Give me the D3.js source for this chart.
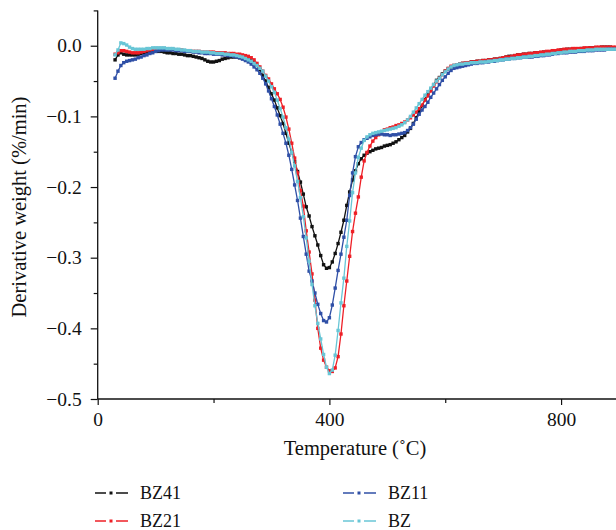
<!DOCTYPE html>
<html>
<head>
<meta charset="utf-8">
<script src="https://cdnjs.cloudflare.com/ajax/libs/d3/7.8.5/d3.min.js"></script>
<style>
    body { margin: 0; background: #fff; }
    svg { display: block; }
    text { font-family: "Liberation Serif", "Times New Roman", serif; fill: #111; }
</style>
</head>
<body>
<svg id="chart" width="616" height="530"></svg>
<script>
// sampling temperatures (°C)
const temps = [30,35,40,45,50,55,60,65,70,75,80,85,90,95,100,105,110,115,120,125,130,135,140,145,150,155,160,165,170,175,
    180,185,190,195,200,205,210,215,220,225,230,235,240,245,250,255,260,265,270,275,280,285,290,295,300,305,310,315,320,325,
    330,335,340,345,350,355,360,365,370,375,380,385,390,395,400,405,410,415,420,425,430,435,440,445,450,455,460,465,470,475,
    480,485,490,495,500,505,510,515,520,525,530,535,540,545,550,555,560,565,570,575,580,585,590,595,600,605,610,615,620,625,
    630,635,640,645,650,655,660,665,670,675,680,685,690,695,700,705,710,715,720,725,730,735,740,745,750,755,760,765,770,775,
    780,785,790,795,800,805,810,815,820,825,830,835,840,845,850,855,860,865,870,875,880,885,890,895];

const bz41 = [-0.020,-0.013,-0.010,-0.012,-0.013,-0.013,-0.013,-0.013,-0.012,-0.011,-0.010,-0.009,-0.008,-0.008,-0.008,
    -0.008,-0.008,-0.009,-0.010,-0.010,-0.011,-0.011,-0.012,-0.012,-0.013,-0.014,-0.014,-0.015,-0.016,-0.017,
    -0.018,-0.020,-0.022,-0.023,-0.023,-0.022,-0.021,-0.019,-0.018,-0.017,-0.016,-0.016,-0.016,-0.017,-0.017,
    -0.018,-0.019,-0.021,-0.024,-0.028,-0.034,-0.042,-0.050,-0.059,-0.068,-0.077,-0.088,-0.099,-0.110,-0.124,
    -0.138,-0.151,-0.164,-0.178,-0.193,-0.210,-0.228,-0.241,-0.256,-0.269,-0.282,-0.297,-0.310,-0.315,-0.314,
    -0.306,-0.294,-0.280,-0.264,-0.247,-0.226,-0.207,-0.190,-0.177,-0.167,-0.160,-0.155,-0.152,-0.150,-0.148,
    -0.146,-0.145,-0.144,-0.142,-0.141,-0.140,-0.138,-0.136,-0.133,-0.130,-0.127,-0.122,-0.117,-0.110,-0.102,
    -0.093,-0.085,-0.076,-0.068,-0.062,-0.055,-0.049,-0.045,-0.040,-0.036,-0.033,-0.030,-0.028,-0.027,-0.026,
    -0.025,-0.025,-0.024,-0.023,-0.023,-0.022,-0.022,-0.021,-0.021,-0.020,-0.020,-0.019,-0.019,-0.018,-0.017,
    -0.016,-0.015,-0.015,-0.014,-0.013,-0.013,-0.012,-0.012,-0.011,-0.011,-0.010,-0.010,-0.010,-0.009,-0.009,
    -0.009,-0.008,-0.008,-0.007,-0.006,-0.006,-0.005,-0.005,-0.005,-0.005,-0.005,-0.004,-0.004,-0.004,-0.003,
    -0.003,-0.003,-0.003,-0.002,-0.002,-0.002,-0.002,-0.003,-0.003];

const bz21 = [-0.012,-0.010,-0.007,-0.007,-0.008,-0.009,-0.010,-0.010,-0.010,-0.009,-0.008,-0.007,-0.006,-0.005,-0.004,
    -0.004,-0.004,-0.004,-0.005,-0.005,-0.005,-0.006,-0.006,-0.006,-0.007,-0.007,-0.007,-0.008,-0.008,-0.008,
    -0.009,-0.009,-0.009,-0.009,-0.009,-0.010,-0.010,-0.010,-0.010,-0.011,-0.011,-0.011,-0.012,-0.012,-0.013,
    -0.014,-0.015,-0.017,-0.020,-0.025,-0.030,-0.036,-0.042,-0.047,-0.054,-0.061,-0.068,-0.076,-0.087,-0.101,
    -0.118,-0.138,-0.159,-0.180,-0.205,-0.227,-0.262,-0.292,-0.323,-0.360,-0.400,-0.428,-0.445,-0.455,-0.460,
    -0.461,-0.456,-0.440,-0.408,-0.368,-0.333,-0.298,-0.263,-0.237,-0.214,-0.186,-0.163,-0.151,-0.142,-0.135,
    -0.130,-0.126,-0.122,-0.119,-0.118,-0.116,-0.115,-0.113,-0.112,-0.110,-0.108,-0.105,-0.102,-0.098,-0.094,
    -0.089,-0.084,-0.077,-0.071,-0.064,-0.057,-0.051,-0.046,-0.041,-0.036,-0.032,-0.029,-0.028,-0.027,-0.026,
    -0.025,-0.024,-0.024,-0.023,-0.023,-0.022,-0.022,-0.021,-0.021,-0.020,-0.020,-0.019,-0.019,-0.018,-0.017,
    -0.016,-0.016,-0.015,-0.014,-0.013,-0.013,-0.012,-0.012,-0.011,-0.011,-0.010,-0.010,-0.009,-0.009,-0.008,
    -0.008,-0.007,-0.007,-0.006,-0.006,-0.005,-0.005,-0.005,-0.004,-0.004,-0.004,-0.004,-0.003,-0.003,-0.003,
    -0.003,-0.002,-0.002,-0.002,-0.002,-0.002,-0.002,-0.002,-0.002];

const bz11 = [-0.046,-0.036,-0.028,-0.024,-0.022,-0.021,-0.020,-0.019,-0.017,-0.016,-0.014,-0.013,-0.011,-0.010,-0.008,
    -0.007,-0.006,-0.006,-0.006,-0.006,-0.006,-0.007,-0.007,-0.007,-0.008,-0.008,-0.008,-0.009,-0.009,-0.010,
    -0.010,-0.011,-0.011,-0.011,-0.012,-0.012,-0.012,-0.013,-0.013,-0.014,-0.014,-0.015,-0.016,-0.017,-0.019,
    -0.021,-0.023,-0.026,-0.030,-0.034,-0.039,-0.046,-0.054,-0.064,-0.075,-0.086,-0.098,-0.111,-0.124,-0.138,
    -0.155,-0.175,-0.197,-0.219,-0.244,-0.270,-0.295,-0.319,-0.333,-0.350,-0.366,-0.379,-0.389,-0.391,-0.385,
    -0.367,-0.343,-0.318,-0.295,-0.271,-0.247,-0.212,-0.180,-0.157,-0.143,-0.137,-0.133,-0.131,-0.129,-0.127,
    -0.126,-0.125,-0.125,-0.126,-0.126,-0.127,-0.126,-0.126,-0.125,-0.124,-0.123,-0.120,-0.116,-0.111,-0.104,
    -0.097,-0.091,-0.086,-0.080,-0.073,-0.067,-0.061,-0.055,-0.049,-0.044,-0.039,-0.035,-0.032,-0.031,-0.030,
    -0.029,-0.028,-0.027,-0.026,-0.025,-0.025,-0.024,-0.024,-0.023,-0.023,-0.022,-0.022,-0.021,-0.020,-0.020,
    -0.019,-0.019,-0.018,-0.018,-0.017,-0.017,-0.016,-0.016,-0.016,-0.016,-0.015,-0.015,-0.014,-0.014,-0.013,
    -0.013,-0.012,-0.011,-0.011,-0.010,-0.010,-0.010,-0.009,-0.009,-0.009,-0.008,-0.008,-0.008,-0.007,-0.007,
    -0.007,-0.006,-0.006,-0.006,-0.006,-0.005,-0.005,-0.005,-0.005];

const bz = [-0.013,-0.006,0.004,0.003,0.001,-0.002,-0.004,-0.005,-0.005,-0.005,-0.005,-0.004,-0.004,-0.003,-0.003,
    -0.003,-0.003,-0.003,-0.004,-0.004,-0.004,-0.005,-0.005,-0.006,-0.006,-0.007,-0.007,-0.008,-0.008,-0.008,
    -0.009,-0.009,-0.009,-0.010,-0.010,-0.011,-0.011,-0.011,-0.012,-0.012,-0.013,-0.013,-0.014,-0.015,-0.016,
    -0.018,-0.020,-0.022,-0.025,-0.028,-0.032,-0.036,-0.043,-0.050,-0.058,-0.066,-0.077,-0.089,-0.101,-0.116,
    -0.132,-0.151,-0.170,-0.192,-0.215,-0.242,-0.272,-0.305,-0.338,-0.368,-0.393,-0.415,-0.437,-0.455,-0.464,
    -0.459,-0.438,-0.403,-0.364,-0.329,-0.284,-0.248,-0.208,-0.180,-0.158,-0.145,-0.134,-0.129,-0.126,-0.124,
    -0.123,-0.122,-0.121,-0.120,-0.119,-0.118,-0.117,-0.116,-0.114,-0.112,-0.109,-0.105,-0.100,-0.094,-0.088,
    -0.082,-0.076,-0.070,-0.065,-0.060,-0.055,-0.050,-0.046,-0.041,-0.037,-0.033,-0.030,-0.028,-0.027,-0.026,
    -0.026,-0.025,-0.025,-0.024,-0.024,-0.024,-0.023,-0.023,-0.023,-0.022,-0.022,-0.021,-0.021,-0.020,-0.020,
    -0.019,-0.019,-0.018,-0.018,-0.017,-0.017,-0.016,-0.016,-0.015,-0.015,-0.014,-0.014,-0.013,-0.013,-0.012,
    -0.012,-0.011,-0.011,-0.010,-0.010,-0.009,-0.009,-0.008,-0.008,-0.008,-0.007,-0.007,-0.007,-0.006,-0.006,
    -0.006,-0.005,-0.005,-0.005,-0.005,-0.005,-0.005,-0.005,-0.005];

const seriesNames = ["BZ41", "BZ21", "BZ11", "BZ"];
const seriesValues = [bz41, bz21, bz11, bz];
const seriesColors = ["#111111", "#ee1f26", "#2f4fa6", "#68c6d6"];

const xMajorTicks = [0, 400, 800];
const xMinorTicks = [200, 600];
const yMajorTicks = [0, -0.1, -0.2, -0.3, -0.4, -0.5];
const yMinorTicks = [0.05, -0.05, -0.15, -0.25, -0.35, -0.45];

function drawChart() {
    const svg = d3.select("#chart");

    const x = d3.scaleLinear().domain([0, 900]).range([97.7, 619]);
    const y = d3.scaleLinear().domain([-0.5, 0.05]).range([399, 10.4]);

    // x axis
    const xAxis = svg.append("g").attr("transform", `translate(0,${y(-0.5)})`);
    xAxis.call(d3.axisBottom(x).tickValues(xMinorTicks).tickSize(4).tickFormat(""));
    xAxis.append("g").call(d3.axisBottom(x).tickValues(xMajorTicks).tickSize(6).tickPadding(7)
        .tickFormat(d3.format("d")));
    xAxis.selectAll(".domain").remove();
    xAxis.append("line")
        .attr("x1", x(0)).attr("x2", 616)
        .attr("stroke", "#111").attr("stroke-width", 1.3);

    // y axis
    const yAxis = svg.append("g").attr("transform", `translate(${x(0)},0)`);
    yAxis.call(d3.axisLeft(y).tickValues(yMinorTicks).tickSize(4).tickFormat(""));
    yAxis.append("g").call(d3.axisLeft(y).tickValues(yMajorTicks).tickSize(7).tickPadding(9)
        .tickFormat(d3.format(".1f")));
    yAxis.selectAll(".domain").remove();
    yAxis.append("line")
        .attr("y1", y(0.05)).attr("y2", y(-0.5))
        .attr("stroke", "#111").attr("stroke-width", 1.3);

    svg.selectAll(".tick line").attr("stroke", "#111").attr("stroke-width", 1.2);
    svg.selectAll(".tick text")
        .attr("font-family", "Liberation Serif, serif")
        .attr("font-size", 19.5)
        .attr("fill", "#111");

    // axis titles
    svg.append("text")
        .attr("x", 355).attr("y", 455)
        .attr("text-anchor", "middle")
        .attr("font-size", 20.5)
        .text("Temperature (\u02daC)");

    svg.append("text")
        .attr("transform", `translate(26,207) rotate(-90)`)
        .attr("text-anchor", "middle")
        .attr("font-size", 20.5)
        .text("Derivative weight (%/min)");

    // curves
    const line = d3.line()
        .x((d, i) => x(temps[i]))
        .y(d => y(d));

    seriesValues.forEach((vals, k) => {
        const g = svg.append("g").attr("class", "series");
        g.append("path")
            .datum(vals)
            .attr("d", line)
            .attr("fill", "none")
            .attr("stroke", seriesColors[k])
            .attr("stroke-width", 1.3);
        g.selectAll("rect")
            .data(vals)
            .enter().append("rect")
            .attr("x", (d, i) => x(temps[i]) - 1.7)
            .attr("y", d => y(d) - 1.7)
            .attr("width", 3.4)
            .attr("height", 3.4)
            .attr("fill", seriesColors[k]);
    });

    // legend
    const legendPos = [[95, 493], [95, 521], [343, 493], [343, 521]];
    const legend = svg.append("g").attr("class", "legend");
    seriesNames.forEach((name, k) => {
        const [lx, ly] = legendPos[k];
        const item = legend.append("g").attr("transform", `translate(${lx},${ly})`);
        item.append("line").attr("x1", 0).attr("x2", 11).attr("y1", 0).attr("y2", 0)
            .attr("stroke", seriesColors[k]).attr("stroke-width", 1.5);
        item.append("line").attr("x1", 21).attr("x2", 33).attr("y1", 0).attr("y2", 0)
            .attr("stroke", seriesColors[k]).attr("stroke-width", 1.5);
        item.append("rect").attr("x", 14.5).attr("y", -1.5).attr("width", 3).attr("height", 3)
            .attr("fill", seriesColors[k]);
        item.append("text")
            .attr("x", 45).attr("y", 0).attr("dy", "0.33em")
            .attr("font-size", 18)
            .text(name);
    });
}

drawChart();
</script>
</body>
</html>
